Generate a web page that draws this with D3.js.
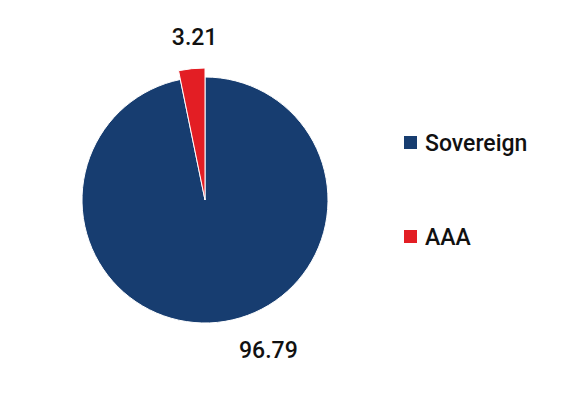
<!DOCTYPE html>
<html>
<head>
<meta charset="utf-8">
<script src="https://cdn.jsdelivr.net/npm/d3@7"></script>
<style>
  body { margin: 0; background: #fff; }
  text { font-family: Roboto, sans-serif; fill: #111; font-weight: 500; }
</style>
</head>
<body>
<svg id="chart" width="575" height="394"></svg>
<script>
// chart data
var categories = ['Sovereign', 'AAA'];
var values = [96.79, 3.21];
var colors = ['#173d70', '#e31e24'];

var svg = d3.select('#chart'),
  cx = 205, cy = 200, radius = 123;

var pie = d3.pie().sort(null).value(function (d) { return d; });
var arcs = pie(values);

// AAA slice is drawn a bit bigger, like a highlighted slice
var arc = d3.arc().innerRadius(0).outerRadius(function (d) {
  return d.index === 1 ? radius + 9 : radius;
});

var g = svg.append('g').attr('transform', 'translate(' + cx + ',' + cy + ')');

g.selectAll('path')
  .data(arcs)
  .enter().append('path')
  .attr('d', function (d) { return arc(d); })
  .attr('fill', function (d, i) { return colors[i]; })
  .attr('stroke', '#fff')
  .attr('stroke-width', 1);

// value labels, nudged from the slice centroid
var labelArc = d3.arc().innerRadius(radius).outerRadius(radius);
var nudge = [[51, 36], [2, -33]];

g.selectAll('text.val')
  .data(arcs)
  .enter().append('text')
  .attr('class', 'val')
  .attr('text-anchor', 'middle')
  .attr('font-size', 23)
  .attr('x', function (d, i) { return labelArc.centroid(d)[0] + nudge[i][0]; })
  .attr('y', function (d, i) { return labelArc.centroid(d)[1] + nudge[i][1]; })
  .text(function (d) { return d.value.toFixed(2); });

// legend
var legendY = d3.scalePoint().domain(categories).range([143, 237]);

var legend = svg.append('g').selectAll('g')
  .data(categories)
  .enter().append('g')
  .attr('transform', function (d) { return 'translate(404,' + legendY(d) + ')'; });

legend.append('rect')
  .attr('x', 0).attr('y', -7)
  .attr('width', 13).attr('height', 13)
  .attr('fill', function (d, i) { return colors[i]; });

legend.append('text')
  .attr('x', 21).attr('y', 8)
  .attr('font-size', 23)
  .text(function (d) { return d; });
</script>
</body>
</html>
